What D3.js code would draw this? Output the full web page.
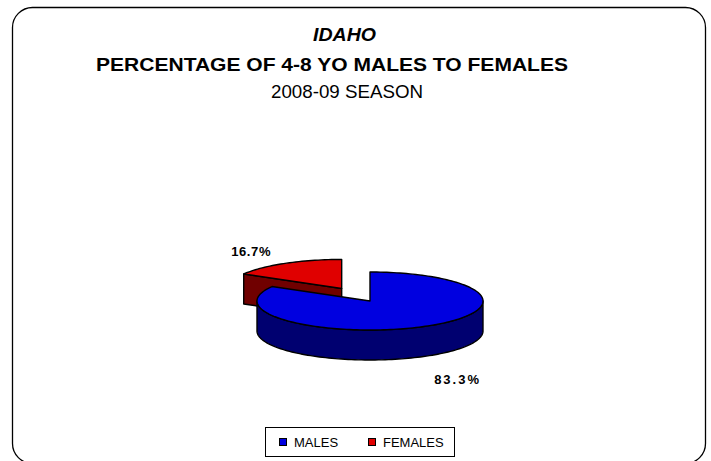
<!DOCTYPE html>
<html><head><meta charset="utf-8">
<script src="https://cdn.jsdelivr.net/npm/d3@7"></script>
<style>html,body{margin:0;padding:0;background:#fff;}svg{display:block;}text{font-family:"Liberation Sans",Arial,sans-serif;}</style>
</head><body>
<svg id="c" width="711" height="461"></svg>
<script>
const categories = ["MALES", "FEMALES"];
const values = [83.3, 16.7];
const labels = ["83.3%", "16.7%"];
const topColors = ["#0000e0", "#e00000"];
const sideColors = ["#000070", "#700000"];
const titleLines = ["IDAHO", "PERCENTAGE OF 4-8 YO MALES TO FEMALES", "2008-09 SEASON"];

const svg = d3.select("#c");
svg.append("rect").attr("x", 12.5).attr("y", 7.5).attr("width", 693).attr("height", 456)
  .attr("rx", 20).attr("fill", "#fff").attr("stroke", "#000").attr("stroke-width", 1.3);

// titles
const tg = svg.append("g").attr("text-anchor", "middle").attr("fill", "#000");
tg.append("text").attr("x", 344.5).attr("y", 41).attr("font-size", 18.5).attr("font-weight", "bold").attr("font-style", "italic")
  .attr("textLength", 63).attr("lengthAdjust", "spacingAndGlyphs").text(titleLines[0]);
tg.append("text").attr("x", 332).attr("y", 71).attr("font-size", 18.5).attr("font-weight", "bold")
  .attr("textLength", 472).attr("lengthAdjust", "spacingAndGlyphs").text(titleLines[1]);
tg.append("text").attr("x", 347).attr("y", 98).attr("font-size", 18.5)
  .attr("textLength", 152).attr("lengthAdjust", "spacingAndGlyphs").text(titleLines[2]);

// 3D pie
const cx = 370, cy = 301, rx = 113, ry = 29, depth = 30, explode = 0.5;
const pie = d3.pie().sort(null).value(d => d)(values);
const P = (ox, oy, a, k = 1) => [ox + rx * k * Math.sin(a), oy - ry * k * Math.cos(a)];
const line = d3.line();
const arcPts = (ox, oy, a0, a1, dy = 0) => {
  const n = Math.max(2, Math.ceil((a1 - a0) / 0.03));
  return d3.range(n + 1).map(i => { const a = a0 + (a1 - a0) * i / n; const p = P(ox, oy, a); return [p[0], p[1] + dy]; });
};
const slices = pie.map((d, i) => {
  const mid = (d.startAngle + d.endAngle) / 2;
  const ex = i === 1 ? explode : 0;
  const ox = cx + rx * ex * Math.sin(mid), oy = cy - ry * ex * Math.cos(mid);
  return { d, i, mid, ox, oy };
});
const g = svg.append("g").attr("stroke", "#000").attr("stroke-width", 1.4).attr("stroke-linejoin", "round");
[slices[1], slices[0]].forEach(s => {
  const { d, i, ox, oy } = s;
  const a0 = d.startAngle, a1 = d.endAngle;
  const walls = [];
  [[a0, -1], [a1, 1]].forEach(([a, dir]) => {
    const nY = -Math.cos(a + dir * Math.PI / 2);
    if (nY > 0.01) {
      const e = P(ox, oy, a);
      walls.push([[ox, oy], e, [e[0], e[1] + depth], [ox, oy + depth]]);
    }
  });
  walls.forEach(w => g.append("path").attr("d", line(w) + "Z").attr("fill", sideColors[i]));
  const f0 = Math.max(a0, Math.PI / 2), f1 = Math.min(a1, 3 * Math.PI / 2);
  if (f1 > f0) {
    const top = arcPts(ox, oy, f0, f1), bot = arcPts(ox, oy, f0, f1, depth).reverse();
    g.append("path").attr("d", line(top.concat(bot)) + "Z").attr("fill", sideColors[i]);
  }
  const pts = [[ox, oy]].concat(arcPts(ox, oy, a0, a1));
  g.append("path").attr("d", line(pts) + "Z").attr("fill", topColors[i]);
});

// data labels
slices.forEach(s => {
  const k = 1.6;
  const p = P(s.ox, s.oy, s.mid, k);
  const down = Math.cos(s.mid) < 0;
  svg.append("text").attr("x", p[0] - (down ? 3 : 0)).attr("y", p[1] + (down ? depth + 13 : 8))
    .attr("text-anchor", "middle").attr("font-size", 13).attr("font-weight", "bold")
    .attr("letter-spacing", down ? 2 : 0.6).text(labels[s.i]);
});

// legend
const lg = svg.append("g");
lg.append("rect").attr("x", 265.5).attr("y", 427.5).attr("width", 189).attr("height", 29).attr("fill", "#fff").attr("stroke", "#000").attr("stroke-width", 1);
const legX = [279, 368];
categories.forEach((c, i) => {
  lg.append("rect").attr("x", legX[i] + 0.5).attr("y", 438.5).attr("width", 7).attr("height", 7).attr("fill", topColors[i]).attr("stroke", "#000").attr("stroke-width", 1);
  lg.append("text").attr("x", legX[i] + 15).attr("y", 446.5).attr("font-size", 13).text(c);
});
</script>
</body></html>
